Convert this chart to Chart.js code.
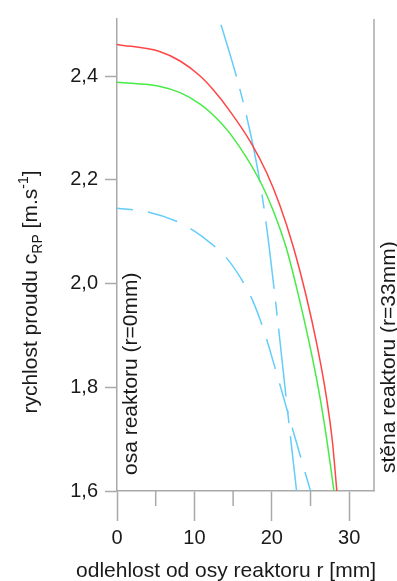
<!DOCTYPE html>
<html>
<head>
<meta charset="utf-8">
<script src="https://cdn.jsdelivr.net/npm/chart.js@4/dist/chart.umd.min.js"></script>
<style>
  html, body { margin: 0; padding: 0; background: #ffffff; }
  #c { display: block; }
</style>
</head>
<body>
<canvas id="c" width="397" height="581"></canvas>
<script>
// Radial velocity profiles: r [mm] vs. c_RP [m/s]
const redR   = [0, 5.58, 8.16, 10.74, 12.46, 14.61, 17.41, 19.35, 21.06, 22.77, 24.47, 25.80, 27.0, 27.83, 28.40];
const redV   = [2.461, 2.447, 2.429, 2.400, 2.373, 2.332, 2.269, 2.213, 2.150, 2.071, 1.974, 1.884, 1.786, 1.695, 1.600];

const greenR = [0, 5.58, 8.16, 10.74, 12.29, 14.61, 18.35, 20.22, 21.88, 23.38, 24.87, 26.13, 27.10, 28.03];
const greenV = [2.388, 2.380, 2.368, 2.346, 2.327, 2.289, 2.201, 2.139, 2.068, 1.981, 1.883, 1.788, 1.699, 1.600];

const blueR  = [0, 4, 8, 10, 12, 14, 16, 17.5, 19, 20.5, 22, 23.5, 25];
const blueV  = [2.145, 2.138, 2.118, 2.101, 2.079, 2.052, 2.010, 1.968, 1.908, 1.833, 1.755, 1.677, 1.600];

const steepR = [13.44, 15.41, 16.75, 18.25, 19.24, 20.31, 22.24, 23.2];
const steepV = [2.499, 2.400, 2.322, 2.214, 2.119, 1.988, 1.727, 1.600];

const xMajorTicks = [0, 10, 20, 30];
const xMinorTicks = [5, 15, 25];
const yTickValues = [1.6, 1.8, 2.0, 2.2, 2.4];

const X_MIN = 0, X_MAX = 33.2;
const Y_MIN = 1.6, Y_MAX = 2.51;

const FONT = "'Liberation Sans', Arial, sans-serif";
const AXIS_GREY = '#a9a9a9';
const TEXT = '#1a1a1a';

const pts = (xs, ys) => xs.map((x, i) => ({ x: x, y: ys[i] }));

// Extra drawing: minor ticks, right frame line, rotated labels and axis titles
const decorations = {
  id: 'decorations',
  afterDraw(chart) {
    const { ctx, chartArea, scales } = chart;
    const xs = scales.x;
    ctx.save();

    // right frame (reactor wall)
    ctx.strokeStyle = AXIS_GREY;
    ctx.lineWidth = 1.5;
    ctx.beginPath();
    ctx.moveTo(chartArea.right, chartArea.top);
    ctx.lineTo(chartArea.right, chartArea.bottom);
    ctx.stroke();

    // minor x ticks
    xMinorTicks.forEach(v => {
      const px = xs.getPixelForValue(v);
      ctx.beginPath();
      ctx.moveTo(px, chartArea.bottom);
      ctx.lineTo(px, chartArea.bottom + 15);
      ctx.stroke();
    });

    ctx.fillStyle = TEXT;
    ctx.textBaseline = 'alphabetic';

    // x axis title
    ctx.font = `21px ${FONT}`;
    ctx.textAlign = 'center';
    ctx.fillText('odlehlost od osy reaktoru r [mm]', 226, 577);

    // vertical annotations along the axis and the wall
    ctx.textAlign = 'left';
    ctx.save();
    ctx.translate(chartArea.left + 20, chartArea.bottom - 16);
    ctx.rotate(-Math.PI / 2);
    ctx.fillText('osa reaktoru (r=0mm)', 0, 0);
    ctx.restore();

    ctx.save();
    ctx.translate(chartArea.right + 21, chartArea.bottom - 18);
    ctx.rotate(-Math.PI / 2);
    ctx.fillText('stěna reaktoru (r=33mm)', 0, 0);
    ctx.restore();

    // y axis title with subscript and superscript
    const parts = [
      { t: 'rychlost proudu c', size: 21, dy: 0 },
      { t: 'RP', size: 14, dy: 5 },
      { t: ' [m.s', size: 21, dy: 0 },
      { t: '-1', size: 14, dy: -9 },
      { t: ']', size: 21, dy: 0 }
    ];
    let total = 0;
    parts.forEach(p => { ctx.font = `${p.size}px ${FONT}`; p.w = ctx.measureText(p.t).width; total += p.w; });
    ctx.save();
    ctx.translate(37, 292);
    ctx.rotate(-Math.PI / 2);
    let cx = -total / 2;
    parts.forEach(p => {
      ctx.font = `${p.size}px ${FONT}`;
      ctx.fillText(p.t, cx, p.dy);
      cx += p.w;
    });
    ctx.restore();

    ctx.restore();
  }
};

const lineStyle = (color, dash, offset) => ({
  borderColor: color,
  borderWidth: 1.5,
  borderDash: dash || [],
  borderDashOffset: offset || 0,
  pointRadius: 0,
  cubicInterpolationMode: 'monotone',
  fill: false
});

new Chart(document.getElementById('c'), {
  type: 'line',
  data: {
    datasets: [
      Object.assign({ data: pts(redR, redV) }, lineStyle('rgb(255,70,70)')),
      Object.assign({ data: pts(greenR, greenV) }, lineStyle('rgb(70,235,70)')),
      Object.assign({ data: pts(blueR, blueV) }, lineStyle('rgb(100,205,250)', [31, 15], 15)),
      Object.assign({ data: pts(steepR, steepV) }, lineStyle('rgb(100,205,250)', [68, 13, 14, 13], 14))
    ]
  },
  options: {
    responsive: false,
    animation: false,
    devicePixelRatio: 1,
    layout: { padding: { left: 0, right: 23, top: 15, bottom: 0 } },
    plugins: { legend: { display: false }, tooltip: { enabled: false } },
    scales: {
      x: {
        type: 'linear',
        min: X_MIN,
        max: X_MAX,
        afterFit(scale) { scale.height = 90; },
        afterBuildTicks(scale) { scale.ticks = xMajorTicks.map(v => ({ value: v })); },
        ticks: {
          font: { family: FONT, size: 20 },
          color: TEXT,
          padding: 5,
          maxRotation: 0,
          callback: v => String(v)
        },
        grid: { drawOnChartArea: false, tickLength: 30, tickColor: AXIS_GREY, tickWidth: 1.5 },
        border: { color: AXIS_GREY, width: 1.5 }
      },
      y: {
        type: 'linear',
        min: Y_MIN,
        max: Y_MAX,
        afterFit(scale) { scale.width = 117; },
        afterBuildTicks(scale) { scale.ticks = yTickValues.map(v => ({ value: v })); },
        ticks: {
          font: { family: FONT, size: 20 },
          color: TEXT,
          padding: 7,
          callback: v => Number(v).toFixed(1).replace('.', ',')
        },
        grid: { drawOnChartArea: false, tickLength: 12, tickColor: AXIS_GREY, tickWidth: 1.5 },
        border: { color: AXIS_GREY, width: 1.5 }
      }
    }
  },
  plugins: [decorations]
});
</script>
</body>
</html>
